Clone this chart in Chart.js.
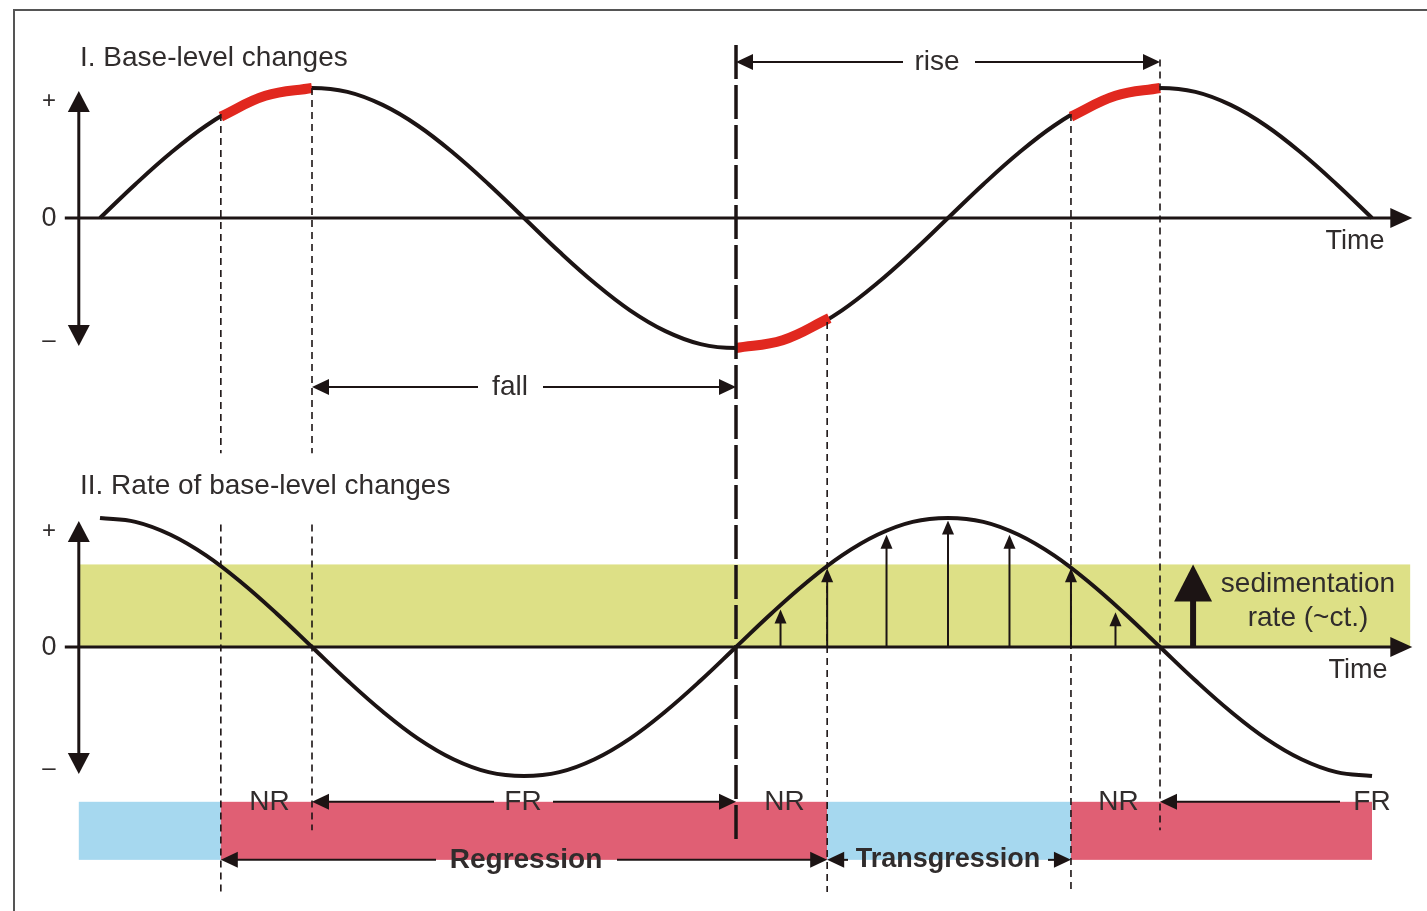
<!DOCTYPE html>
<html>
<head>
<meta charset="utf-8">
<script src="https://cdn.jsdelivr.net/npm/chart.js@4.4.0/dist/chart.umd.min.js"></script>
<style>
  html, body { margin: 0; padding: 0; background: #fff; }
  #wrap { position: relative; width: 1427px; height: 911px; }
</style>
</head>
<body>
<div id="wrap"><canvas id="baseLevel"></canvas></div>
<script>
// time in quarter-cycles (t = 1 -> first highstand), read every 1/6
const timeSteps = [0, 0.167, 0.333, 0.5, 0.667, 0.833, 1, 1.167, 1.333, 1.5, 1.667, 1.833,
	2, 2.167, 2.333, 2.5, 2.667, 2.833, 3, 3.167, 3.333, 3.5, 3.667, 3.833,
	4, 4.167, 4.333, 4.5, 4.667, 4.833, 5, 5.167, 5.333, 5.5, 5.667, 5.833, 6];

// I. base level (relative units, +1 = highstand)
const baseLevel = [0, 0.26, 0.5, 0.71, 0.87, 0.97, 1, 0.97, 0.87, 0.71, 0.5, 0.26,
	0, -0.26, -0.5, -0.71, -0.87, -0.97, -1, -0.97, -0.87, -0.71, -0.5, -0.26,
	0, 0.26, 0.5, 0.71, 0.87, 0.97, 1, 0.97, 0.87, 0.71, 0.5, 0.26, 0];

// II. rate of base-level change
const rateOfChange = [1, 0.97, 0.87, 0.71, 0.5, 0.26, 0, -0.26, -0.5, -0.71, -0.87, -0.97,
	-1, -0.97, -0.87, -0.71, -0.5, -0.26, 0, 0.26, 0.5, 0.71, 0.87, 0.97,
	1, 0.97, 0.87, 0.71, 0.5, 0.26, 0, -0.26, -0.5, -0.71, -0.87, -0.97, -1];

// red highlighted parts of curve I
const highlightTimes = [
	[0.57, 0.78, 1.0],
	[3.0, 3.22, 3.44],
	[4.58, 4.79, 5.0],
];
const highlightLevels = [
	[0.78, 0.94, 1.0],
	[-1.0, -0.94, -0.77],
	[0.78, 0.94, 1.0],
];

// sedimentation rate (constant) and accommodation arrows
const sedimentationRate = 0.64;
const arrowTimes = [3.21, 3.43, 3.71, 4.0, 4.29, 4.58, 4.79];
const arrowRates = [0.29, 0.61, 0.87, 0.98, 0.87, 0.61, 0.27];

// shoreline regimes along the bottom bar
const regimeStart = [-0.1, 0.57, 3.43, 4.58];
const regimeEnd = [0.57, 3.43, 4.58, 6.0];
const regimeKind = ["T", "R", "T", "R"];

// key moments
const nrStart = [0.57, 3.0, 4.58];
const nrEnd = [1.0, 3.43, 5.0];
const fallStart = 1.0;
const fallEnd = 3.0;
const riseStart = 3.0;
const riseEnd = 5.0;

const INK = "#1c1414";
const TEXT = "#302c2c";
const RED = "#e1281f";
const COLORS = { R: "#e05f74", T: "#a6d8ef" };
const BAND = "#dde086";
const FONT = "'Liberation Sans', Arial, sans-serif";

function head(ctx, x, y, ang, len, half) {
	ctx.save();
	ctx.translate(x, y);
	ctx.rotate(ang);
	ctx.beginPath();
	ctx.moveTo(0, 0);
	ctx.lineTo(-len, -half);
	ctx.lineTo(-len, half);
	ctx.closePath();
	ctx.fill();
	ctx.restore();
}

function line(ctx, x1, y1, x2, y2, w, dash) {
	ctx.save();
	ctx.lineWidth = w;
	ctx.setLineDash(dash || []);
	ctx.beginPath();
	ctx.moveTo(x1, y1);
	ctx.lineTo(x2, y2);
	ctx.stroke();
	ctx.restore();
}

function text(ctx, s, x, y, size, bold, align) {
	ctx.font = (bold ? "bold " : "") + size + "px " + FONT;
	ctx.textAlign = align || "center";
	ctx.textBaseline = "middle";
	ctx.fillText(s, x, y);
}

// double arrow with a gap [g1, g2] for a label centred at lx
function span(ctx, x1, x2, y, label, lx, g1, g2, size, bold) {
	ctx.strokeStyle = INK;
	ctx.fillStyle = INK;
	line(ctx, x1 + 4, y, g1, y, 2);
	line(ctx, g2, y, x2 - 4, y, 2);
	head(ctx, x1, y, Math.PI, 17, 8);
	head(ctx, x2, y, 0, 17, 8);
	ctx.fillStyle = TEXT;
	text(ctx, label, lx, y, size, bold);
}

const backdrop = {
	id: "backdrop",
	beforeDatasetsDraw(chart) {
		const { ctx, scales } = chart;
		const x = scales.x, yT = scales.yTop, yR = scales.yRate;
		ctx.save();
		// frame
		ctx.strokeStyle = "#555";
		ctx.lineWidth = 2;
		ctx.beginPath();
		ctx.moveTo(14, 911);
		ctx.lineTo(14, 10);
		ctx.lineTo(1427, 10);
		ctx.stroke();

		// constant sedimentation band
		ctx.fillStyle = BAND;
		const bTop = yR.getPixelForValue(sedimentationRate);
		const bL = x.getPixelForValue(-0.1);
		ctx.fillRect(bL, bTop, x.getPixelForValue(6.18) - bL, yR.getPixelForValue(0) - bTop);

		// regime bar
		const barTop = yR.getPixelForValue(-1.2);
		const barBot = yR.getPixelForValue(-1.65);
		regimeKind.forEach((k, i) => {
			ctx.fillStyle = COLORS[k];
			const a = x.getPixelForValue(regimeStart[i]);
			const b = x.getPixelForValue(regimeEnd[i]);
			ctx.fillRect(a, barTop, b - a, barBot - barTop);
		});

		// axes
		[yT, yR].forEach((ys) => {
			ctx.strokeStyle = INK;
			ctx.fillStyle = INK;
			const ax = x.getPixelForValue(-0.1);
			const y0 = ys.getPixelForValue(0);
			const yp = ys.getPixelForValue(1.0) + 3;
			const yn = ys.getPixelForValue(-1.0) - 2;
			line(ctx, ax, yp + 12, ax, yn - 12, 3);
			head(ctx, ax, yp, -Math.PI / 2, 21, 11);
			head(ctx, ax, yn, Math.PI / 2, 21, 11);
			line(ctx, ax - 14, y0, x.getPixelForValue(6.12), y0, 3);
			head(ctx, x.getPixelForValue(6.19), y0, 0, 22, 10);
			ctx.fillStyle = TEXT;
			text(ctx, "+", 49, yp + 10, 24, false);
			text(ctx, "0", 49, y0 + 1, 27, false);
			text(ctx, "\u2013", 49, yn - 6, 24, false);
		});

		// accommodation arrows
		ctx.strokeStyle = INK;
		ctx.fillStyle = INK;
		arrowTimes.forEach((t, i) => {
			const ax = x.getPixelForValue(t);
			const tip = yR.getPixelForValue(arrowRates[i]);
			line(ctx, ax, yR.getPixelForValue(0), ax, tip + 8, 2);
			head(ctx, ax, tip, -Math.PI / 2, 14, 6);
		});
		ctx.restore();
	},
	afterDatasetsDraw(chart) {
		const { ctx, scales } = chart;
		const x = scales.x, yT = scales.yTop, yR = scales.yRate;
		const X = (t) => x.getPixelForValue(t);
		ctx.save();
		ctx.strokeStyle = INK;
		ctx.fillStyle = INK;

		// guide lines
		const guide = (t, y1, y2) => line(ctx, X(t), y1, X(t), y2, 1.6, [7, 5]);
		const topEnd = yT.getPixelForValue(-1.81);
		const botStart = yR.getPixelForValue(0.95);
		guide(nrStart[0], yT.getPixelForValue(0.8), topEnd);
		guide(nrStart[0], botStart, yR.getPixelForValue(-1.9));
		guide(nrEnd[0], yT.getPixelForValue(1.0), topEnd);
		guide(nrEnd[0], botStart, yR.getPixelForValue(-1.42));
		guide(nrEnd[1], yT.getPixelForValue(-0.8), yR.getPixelForValue(-1.9));
		guide(nrStart[2], yT.getPixelForValue(0.8), yR.getPixelForValue(-1.9));
		guide(nrEnd[2], yT.getPixelForValue(1.22), yR.getPixelForValue(-1.42));
		// lowstand line
		line(ctx, X(riseStart), yT.getPixelForValue(1.33), X(riseStart), yR.getPixelForValue(-1.49), 3.5, [34, 6]);

		// fall / rise
		span(ctx, X(fallStart), X(fallEnd), yT.getPixelForValue(-1.3), "fall", 510, 478, 543, 28, false);
		span(ctx, X(riseStart), X(riseEnd), yT.getPixelForValue(1.2), "rise", 937, 903, 975, 28, false);

		// bar labels
		const rowA = yR.getPixelForValue(-1.2);
		const rowB = yR.getPixelForValue(-1.65);
		span(ctx, X(fallStart), X(fallEnd), rowA, "FR", 523, 494, 553, 28, false);
		ctx.strokeStyle = INK;
		ctx.fillStyle = INK;
		line(ctx, X(nrEnd[2]) + 4, rowA, 1340, rowA, 2);
		head(ctx, X(nrEnd[2]), rowA, Math.PI, 17, 8);
		ctx.fillStyle = TEXT;
		text(ctx, "FR", X(6.0), rowA, 28, false);
		nrStart.forEach((s, i) => {
			text(ctx, "NR", (X(s) + X(nrEnd[i])) / 2 + 3, rowA, 28, false);
		});
		span(ctx, X(regimeStart[1]), X(regimeEnd[1]), rowB, "Regression", 526, 436, 617, 28, true);
		span(ctx, X(regimeStart[2]), X(regimeEnd[2]), rowB, "Transgression", 948, 848, 1048, 27, true);

		// sedimentation arrow
		ctx.strokeStyle = INK;
		ctx.fillStyle = INK;
		const sx = X(5.156);
		line(ctx, sx, yR.getPixelForValue(0), sx, yR.getPixelForValue(sedimentationRate) + 30, 6);
		head(ctx, sx, yR.getPixelForValue(sedimentationRate), -Math.PI / 2, 37, 19);
		ctx.fillStyle = TEXT;
		text(ctx, "sedimentation", 1308, 584, 28, false);
		text(ctx, "rate (~ct.)", 1308, 618, 28, false);

		// titles
		text(ctx, "I. Base-level changes", 80, 58, 28, false, "left");
		text(ctx, "II. Rate of base-level changes", 80, 486, 28, false, "left");
		text(ctx, "Time", 1355, yT.getPixelForValue(0) + 24, 27, false);
		text(ctx, "Time", 1358, yR.getPixelForValue(0) + 24, 27, false);
		ctx.restore();
	},
};

const datasets = [
	{
		data: timeSteps.map((t, i) => ({ x: t, y: baseLevel[i] })),
		yAxisID: "yTop",
		borderColor: INK,
		borderWidth: 4,
		pointRadius: 0,
		tension: 0.4,
		order: 2,
	},
	{
		data: timeSteps.map((t, i) => ({ x: t, y: rateOfChange[i] })),
		yAxisID: "yRate",
		borderColor: INK,
		borderWidth: 4,
		pointRadius: 0,
		tension: 0.4,
		order: 2,
	},
];
highlightTimes.forEach((ts, k) => {
	datasets.push({
		data: ts.map((t, i) => ({ x: t, y: highlightLevels[k][i] })),
		yAxisID: "yTop",
		borderColor: RED,
		borderWidth: 10,
		borderCapStyle: "butt",
		pointRadius: 0,
		tension: 0.4,
		order: 1,
	});
});

new Chart(document.getElementById("baseLevel"), {
	type: "line",
	data: { datasets: datasets },
	options: {
		responsive: true,
		maintainAspectRatio: false,
		animation: false,
		layout: { padding: 0 },
		plugins: { legend: { display: false }, tooltip: { enabled: false } },
		scales: {
			x: { type: "linear", min: -0.4717, max: 6.2594, display: false },
			yTop: { type: "linear", min: -5.33, max: 1.677, display: false },
			yRate: { type: "linear", min: -2.0465, max: 5.0155, display: false },
		},
	},
	plugins: [backdrop],
});
</script>
</body>
</html>
